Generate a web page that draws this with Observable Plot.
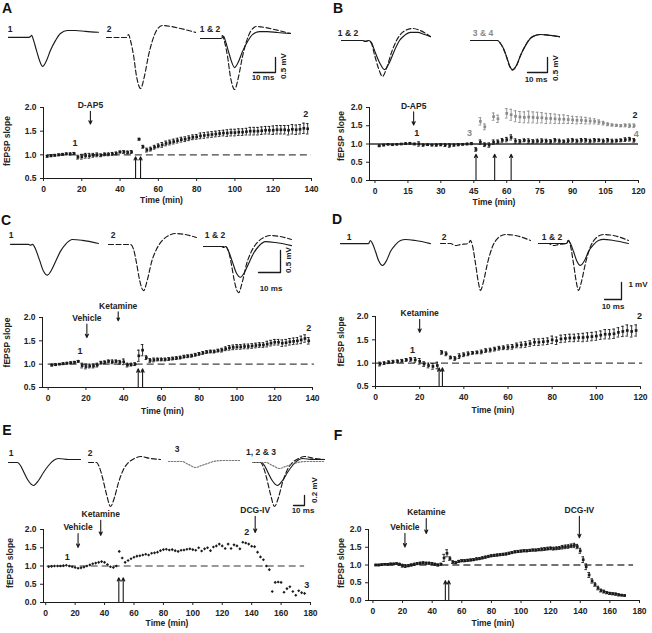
<!DOCTYPE html>
<html><head><meta charset="utf-8">
<script src="https://cdn.jsdelivr.net/npm/d3@7"></script>
<script src="https://cdn.jsdelivr.net/npm/@observablehq/plot@0.6"></script>
<style>
body{margin:0;background:#fff;}
#root{position:relative;width:652px;height:633px;overflow:hidden;font-family:"Liberation Sans",Arial,sans-serif;background:#fff;}
#root svg{position:absolute;background:transparent;overflow:visible;}
.lbl{position:absolute;font-weight:bold;white-space:nowrap;line-height:1;color:#222;}
</style></head><body><div id="root"></div><script>
// ---------------- DATA ----------------
// Waveform traces: [ms, mV]
const A_tr1 = [[0,0],[9.1,0],[10,0.03],[10.5,0.07],[11.4,-0.1],[12.7,-0.43],[14.1,-0.77],[15.5,-0.97],[17.3,-0.77],[19.1,-0.43],[21.4,-0.1],[23.6,0.13],[26.8,0.23],[30.5,0.23],[35,0.2],[40.9,0.17]];
const A_tr2 = [[0,0],[9.1,0],[10,0.1],[10.9,-0.1],[12.3,-0.6],[13.6,-1.27],[15.5,-1.7],[17.3,-1.27],[19.1,-0.6],[20.9,-0.1],[22.7,0.23],[25.5,0.4],[29.1,0.37],[33.6,0.3],[40.5,0.17]];
const B_tr1 = [[0,0],[10.5,0],[12,-0.03],[13.5,0],[15,-0.07],[16.5,-0.33],[19,-0.73],[21.5,-0.97],[24,-0.73],[26.5,-0.33],[29,0],[31.5,0.17],[34.5,0.27],[38,0.27],[41.5,0.2],[44.5,0.13]];
const B_tr2 = [[0,0],[10.5,0],[12,-0.03],[13.5,0],[15,-0.1],[16.5,-0.47],[18.5,-0.93],[20.5,-1.2],[22.5,-0.93],[25,-0.4],[27.5,0],[30.5,0.27],[35.5,0.4],[39.5,0.33],[44.5,0.13]];
const B_tr3 = [[0,0],[13.5,0],[15,-0.1],[16.5,-0.27],[18,-0.53],[19.5,-0.83],[21,-0.97],[23,-0.83],[25,-0.5],[27.5,-0.17],[30,0.07],[32.5,0.17],[35,0.2],[40,0.17],[44.5,0.13]];
const B_tr4 = [[0,0],[13.5,0],[15,-0.1],[16.5,-0.28],[18,-0.55],[19.5,-0.85],[21,-0.99],[23,-0.84],[25,-0.5],[27.5,-0.16],[30,0.08],[32.5,0.17],[35,0.2],[40,0.17],[44.5,0.12]];
const C_tr1 = [[0,0],[8.2,0],[9.1,-0.02],[10,0],[11.4,-0.11],[13.2,-0.36],[15,-0.61],[16.8,-0.7],[18.6,-0.59],[20.5,-0.39],[22.7,-0.16],[25,0],[28.2,0.11],[32.7,0.09],[40,0.02]];
const C_tr2 = [[0,0],[10,0],[11.4,-0.11],[12.7,-0.41],[14.1,-0.8],[15.9,-1.05],[17.7,-0.8],[19.5,-0.41],[21.8,-0.11],[24.1,0.07],[27.3,0.2],[30.5,0.25],[34.5,0.23],[40,0.16]];
const D_tr1 = [[0,0],[16.5,0],[17.6,0.18],[18.8,0],[20.6,-0.47],[22.4,-1.0],[24.7,-1.29],[27.1,-1.0],[29.4,-0.47],[32.4,-0.06],[35.3,0.18],[38.2,0.24],[44.1,0.18],[52.9,0]];
const D_tr2 = [[0,0],[5.9,0],[8.8,-0.12],[11.8,-0.06],[16.5,0],[17.6,0.18],[18.8,-0.12],[20.6,-1.18],[22.4,-2.35],[23.5,-2.76],[25.3,-2.24],[27.6,-1.18],[30.6,-0.18],[33.5,0.29],[38.2,0.53],[44.1,0.47],[52.9,0.18]];
const E_tr1 = [[0,0],[8.2,0],[10.9,-0.06],[13.6,-0.18],[17.3,-0.34],[22.7,-0.46],[27.3,-0.36],[31.8,-0.2],[36.4,-0.06],[40.9,0.04],[45.5,0.08],[54.5,0.06],[65.5,0.06]];
const E_tr2 = [[0,0],[7.3,0],[10,-0.1],[12.7,-0.3],[16.4,-0.64],[20,-0.88],[23.6,-0.7],[27.3,-0.4],[31.8,-0.14],[36.4,0],[41.8,0.08],[47.3,0.12],[56.4,0.08],[65.5,0.06]];
const E_tr3 = [[0,0],[12.7,0],[16.4,-0.04],[20,-0.08],[24.5,-0.12],[30,-0.08],[35.5,-0.04],[40.9,0],[50,0.02],[65.5,0.02]];

// Scale bars: [ms, mV]
const A_bar = [10, 0.5], B_bar = [10, 0.5], C_bar = [10, 0.5], D_bar = [10, 1], E_bar = [10, 0.2];

// Time courses: [min, fEPSP slope, SEM]
const A_data = [[2,0.97,0.02],[4,0.98,0.02],[6,0.99,0.02],[8,1.0,0.02],[10,1.01,0.02],[12,1.02,0.02],[14,1.02,0.02],[16,1.03,0.02],
[18,0.95,0.04],[20,0.96,0.05],[22,0.98,0.05],[24,0.98,0.05],[26,0.99,0.04],[28,1.0,0.04],[30,0.99,0.03],[32,1.01,0.03],[34,1.01,0.03],[36,1.02,0.03],[38,1.03,0.03],[40,1.06,0.02],[42,1.06,0.03],[44,1.05,0.03],[46,1.06,0.03],
[50,1.33,0.02],[52,1.17,0.03],[54,1.1,0.04],[56,1.12,0.04],[58,1.16,0.04],[60,1.19,0.04],[62,1.21,0.05],[64,1.24,0.05],[66,1.26,0.05],[68,1.28,0.05],[70,1.3,0.05],[72,1.32,0.05],[74,1.33,0.05],[76,1.35,0.05],[78,1.37,0.05],[80,1.38,0.05],[82,1.4,0.06],[84,1.41,0.06],[86,1.42,0.06],[88,1.43,0.06],[90,1.44,0.06],[92,1.45,0.06],[94,1.46,0.06],[96,1.46,0.07],[98,1.47,0.07],[100,1.47,0.07],[102,1.48,0.07],[104,1.48,0.07],[106,1.49,0.07],[108,1.5,0.08],[110,1.5,0.08],[112,1.5,0.08],[114,1.51,0.08],[116,1.52,0.08],[118,1.52,0.08],[120,1.52,0.09],[122,1.53,0.09],[124,1.53,0.09],[126,1.53,0.09],[128,1.52,0.1],[130,1.54,0.1],[132,1.53,0.1],[134,1.54,0.1],[136,1.56,0.11],[138,1.55,0.11]];
const B_black = [[2,0.95,0.02],[4,0.97,0.02],[6,0.99,0.01],[8,0.98,0.01],[10,0.99,0.01],[12,1.0,0.01],[14,1.01,0.02],[16,1.02,0.02],[18,1.0,0.02],[20,1.0,0.06],[22,0.97,0.03],[24,0.98,0.02],[26,0.97,0.02],[28,0.97,0.03],[30,0.98,0.03],[32,0.97,0.04],[34,0.96,0.05],[36,0.97,0.03],[38,0.98,0.03],[40,0.99,0.02],[42,1.0,0.02],[44,1.01,0.03],[46,0.85,0.05],[48,1.05,0.06],[50,0.98,0.05],[52,0.97,0.06],[54,1.05,0.06],[56,1.06,0.05],[58,1.1,0.05],[60,1.12,0.06],[62,1.18,0.07],[64,1.08,0.06],[66,1.07,0.05],[68,1.1,0.04],[70,1.08,0.06],[72,1.07,0.05],[74,1.08,0.05],[76,1.09,0.05],[78,1.08,0.05],[80,1.07,0.05],[82,1.1,0.05],[84,1.08,0.05],[86,1.07,0.04],[88,1.09,0.05],[90,1.1,0.05],[92,1.08,0.05],[94,1.1,0.05],[96,1.1,0.05],[98,1.08,0.05],[100,1.1,0.05],[102,1.1,0.04],[104,1.08,0.05],[106,1.1,0.05],[108,1.08,0.05],[110,1.09,0.04],[112,1.1,0.04],[114,1.12,0.05],[116,1.13,0.05],[118,1.1,0.05]];
const B_gray = [[48,1.62,0.1],[50,1.47,0.08],[54,1.75,0.1],[56,1.69,0.1],[60,1.84,0.13],[62,1.8,0.15],[64,1.76,0.15],[66,1.74,0.15],[68,1.73,0.15],[70,1.74,0.16],[72,1.73,0.15],[74,1.72,0.15],[76,1.72,0.14],[78,1.7,0.14],[80,1.7,0.13],[82,1.69,0.13],[84,1.68,0.12],[86,1.68,0.12],[88,1.67,0.11],[90,1.66,0.1],[92,1.65,0.1],[94,1.65,0.09],[96,1.64,0.09],[98,1.63,0.08],[100,1.62,0.07],[102,1.6,0.06],[104,1.57,0.05],[106,1.54,0.04],[108,1.52,0.03],[110,1.51,0.03],[112,1.5,0.03],[114,1.51,0.04],[116,1.5,0.05],[118,1.5,0.05]];
const C_data = [[2,0.98,0.02],[4,0.99,0.02],[6,1.0,0.01],[8,1.01,0.02],[10,1.02,0.02],[12,1.03,0.02],[14,1.04,0.02],[16,1.06,0.02],[18,0.97,0.05],[20,0.95,0.05],[22,0.96,0.04],[24,0.96,0.04],[26,0.98,0.04],[28,1.03,0.03],[30,1.04,0.03],[32,1.06,0.03],[34,1.05,0.04],[36,1.06,0.03],[38,1.04,0.04],[40,1.05,0.06],[42,0.98,0.04],[44,0.99,0.03],[46,1.0,0.03],[48,1.18,0.12],[50,1.3,0.12],[52,1.14,0.04],[54,1.08,0.04],[56,1.09,0.04],[58,1.1,0.03],[60,1.1,0.03],[62,1.1,0.03],[64,1.11,0.03],[66,1.12,0.03],[68,1.13,0.03],[70,1.14,0.03],[72,1.16,0.03],[74,1.17,0.03],[76,1.18,0.03],[78,1.2,0.03],[80,1.22,0.03],[82,1.24,0.03],[84,1.26,0.03],[86,1.27,0.03],[88,1.27,0.03],[90,1.29,0.03],[92,1.3,0.04],[94,1.33,0.04],[96,1.35,0.05],[98,1.36,0.05],[100,1.37,0.05],[102,1.37,0.05],[104,1.38,0.05],[106,1.38,0.05],[108,1.39,0.05],[110,1.4,0.05],[112,1.41,0.05],[114,1.41,0.05],[116,1.43,0.06],[118,1.45,0.06],[120,1.47,0.06],[122,1.47,0.06],[124,1.45,0.07],[126,1.46,0.07],[128,1.48,0.07],[130,1.49,0.07],[132,1.5,0.07],[134,1.52,0.08],[136,1.55,0.08],[138,1.5,0.07]];
const D_data = [[2,0.98,0.04],[4,1.0,0.03],[6,1.02,0.03],[8,1.03,0.03],[10,1.04,0.03],[12,1.05,0.03],[14,1.07,0.03],[16,1.08,0.04],[18,1.07,0.05],[20,1.04,0.06],[22,0.98,0.05],[24,0.95,0.05],[26,0.93,0.06],[28,0.95,0.07],[30,1.23,0.04],[32,1.2,0.04],[34,1.12,0.03],[36,1.1,0.04],[38,1.15,0.05],[40,1.18,0.04],[42,1.2,0.04],[44,1.22,0.03],[46,1.23,0.03],[48,1.24,0.04],[50,1.27,0.04],[52,1.28,0.04],[54,1.3,0.04],[56,1.32,0.04],[58,1.33,0.04],[60,1.34,0.05],[62,1.35,0.05],[64,1.38,0.05],[66,1.39,0.06],[68,1.4,0.06],[70,1.42,0.06],[72,1.45,0.07],[74,1.45,0.07],[76,1.46,0.07],[78,1.47,0.07],[80,1.5,0.08],[82,1.48,0.08],[84,1.52,0.08],[86,1.53,0.08],[88,1.54,0.08],[90,1.54,0.08],[92,1.55,0.08],[94,1.55,0.09],[96,1.56,0.09],[98,1.57,0.09],[100,1.58,0.09],[102,1.6,0.09],[104,1.62,0.1],[106,1.62,0.1],[108,1.63,0.1],[110,1.66,0.1],[112,1.68,0.11],[114,1.7,0.12],[116,1.68,0.12],[118,1.7,0.12]];
const E_data = [[2,0.98],[4,0.99],[6,1.0],[8,1.0],[10,1.0],[12,1.01],[14,1.02],[16,1.0],[18,0.98],[20,0.96],[22,0.94],[24,0.95],[26,0.97],[28,1.0],[30,1.03],[32,1.06],[34,1.08],[36,1.1],[38,1.12],[40,1.1],[42,1.04],[44,0.98],[46,0.96],[48,1.0],[50,1.4],[52,1.22],[54,1.1],[56,1.15],[58,1.2],[60,1.24],[62,1.27],[64,1.28],[66,1.3],[68,1.32],[70,1.3],[72,1.35],[74,1.36],[76,1.38],[78,1.42],[80,1.45],[82,1.46],[84,1.44],[86,1.45],[88,1.42],[90,1.4],[92,1.43],[94,1.44],[96,1.46],[98,1.47],[100,1.45],[102,1.43],[104,1.5],[106,1.41],[108,1.47],[110,1.5],[112,1.42],[114,1.52],[116,1.55],[118,1.6],[120,1.55],[122,1.48],[124,1.6],[126,1.48],[128,1.58],[130,1.55],[132,1.47],[134,1.65],[136,1.63],[138,1.6],[140,1.54],[142,1.53],[144,1.38],[146,1.25],[148,1.17],[150,1.0],[152,0.9],[154,0.3],[156,0.55],[158,0.56],[160,0.55],[162,0.28],[164,0.38],[166,0.43],[168,0.3],[170,0.2],[172,0.32],[174,0.27],[176,0.25]];
const F_data = [[2,1.0,0.02],[4,1.0,0.02],[6,1.01,0.02],[8,1.02,0.02],[10,1.02,0.02],[12,1.03,0.02],[14,1.03,0.02],[16,1.04,0.02],[18,1.02,0.03],[20,0.98,0.04],[22,0.97,0.04],[24,0.98,0.03],[26,1.0,0.03],[28,1.02,0.03],[30,1.04,0.03],[32,1.05,0.03],[34,1.06,0.03],[36,1.05,0.03],[38,1.05,0.03],[40,1.04,0.03],[42,1.02,0.03],[44,1.0,0.03],[46,1.02,0.03],[48,1.2,0.1],[50,1.33,0.1],[52,1.18,0.05],[54,1.08,0.04],[56,1.07,0.03],[58,1.1,0.03],[60,1.12,0.03],[62,1.12,0.03],[64,1.13,0.03],[66,1.14,0.03],[68,1.15,0.03],[70,1.17,0.03],[72,1.18,0.03],[74,1.2,0.03],[76,1.22,0.03],[78,1.24,0.03],[80,1.26,0.03],[82,1.27,0.03],[84,1.28,0.03],[86,1.29,0.03],[88,1.3,0.03],[90,1.31,0.03],[92,1.33,0.03],[94,1.35,0.03],[96,1.37,0.03],[98,1.38,0.03],[100,1.39,0.03],[102,1.4,0.03],[104,1.4,0.03],[106,1.41,0.03],[108,1.42,0.03],[110,1.42,0.03],[112,1.43,0.03],[114,1.44,0.04],[116,1.45,0.04],[118,1.46,0.04],[120,1.47,0.04],[122,1.46,0.04],[124,1.47,0.04],[126,1.48,0.04],[128,1.5,0.05],[130,1.51,0.05],[132,1.52,0.05],[134,1.54,0.05],[136,1.55,0.06],[138,1.52,0.06],[140,1.4,0.07],[142,1.15,0.08],[144,0.95,0.08],[146,0.72,0.07],[148,0.55,0.06],[150,0.45,0.05],[152,0.35,0.05],[154,0.28,0.04],[156,0.25,0.04],[158,0.22,0.03],[160,0.2,0.03],[162,0.19,0.03],[164,0.18,0.03],[166,0.16,0.03],[168,0.15,0.02],[170,0.14,0.02]];

// Drug applications [name, min], tetanus times (min), sample points [name, min]
const A_drugs = [["D-AP5",24.5]], A_hfs = [48.1,50.7], A_pts = [["1",16.5],["2",137]];
const B_drugs = [["D-AP5",17.6]], B_hfs = [46,54.5,62], B_pts = [["1",19],["2",118.4]], B_ptsGray = [["3",43],["4",119]];
const C_drugs = [["Vehicle",20.5],["Ketamine",37.1]], C_hfs = [47.7,50], C_pts = [["1",16.8],["2",138]];
const D_drugs = [["Ketamine",20]], D_hfs = [28.8,30.3], D_pts = [["1",16.7],["2",119.6]];
const E_drugs = [["Vehicle",22],["Ketamine",37.4],["DCG-IV",142.4]], E_hfs = [49.7,52.7], E_pts = [["1",14.7],["2",136.6],["3",177.5]];
const F_drugs = [["Vehicle",21.6],["Ketamine",36],["DCG-IV",139.4]], F_hfs = [48.9,51.2];

const ticks140 = [0,20,40,60,80,100,120,140];
const ticks120_15 = [0,15,30,45,60,75,90,105,120];
const ticks120_20 = [0,20,40,60,80,100,120];
const ticks180 = [0,20,40,60,80,100,120,140,160,180];
const yt05 = [0.5,1.0,1.5,2.0], yt0 = [0,0.5,1.0,1.5,2.0];

// ---------------- DRAWING ----------------
const root = document.getElementById("root");
const FONT = '"Liberation Sans", Arial, sans-serif';
const INK = "#1a1a1a";
const DASH = "5,2.5";
function place(el, left, top) { el.style.left = left + "px"; el.style.top = top + "px"; root.appendChild(el); }
function label(text, x, y, {size = 8.5, color = "#222", rotate = 0} = {}) {
  const d = document.createElement("div");
  d.className = "lbl"; d.textContent = text;
  d.style.left = x + "px"; d.style.top = y + "px"; d.style.fontSize = size + "px"; d.style.color = color;
  d.style.transform = `translate(-50%,-50%) rotate(${rotate}deg)`;
  root.appendChild(d);
}
function traces(series, x0, y0, msPx, mvPx) {
  const all = series.flatMap(s => s.data);
  const tmax = d3.max(all, d => d[0]);
  const vmin = Math.min(0, d3.min(all, d => d[1])), vmax = Math.max(0, d3.max(all, d => d[1]));
  const pad = 3;
  const svg = Plot.plot({
    width: tmax * msPx + 2 * pad, height: (vmax - vmin) * mvPx + 2 * pad, margin: pad,
    x: {domain: [0, tmax], axis: null}, y: {domain: [vmin, vmax], axis: null},
    style: {background: "transparent", overflow: "visible"},
    marks: series.map(s => Plot.line(s.data, {x: d => d[0], y: d => d[1], stroke: s.stroke || INK,
      strokeWidth: s.w || 1.15, strokeDasharray: s.dash, curve: "monotone-x"}))
  });
  place(svg, x0 - pad, y0 - pad - vmax * mvPx);
}
function scaleBar(bar, x, y, msPx, mvPx) {
  const [ms, mv] = bar, pad = 2;
  const pts = [[0, 0], [ms, 0], [ms, mv]];
  const svg = Plot.plot({
    width: ms * msPx + 2 * pad, height: mv * mvPx + 2 * pad, margin: pad,
    x: {domain: [0, ms], axis: null}, y: {domain: [0, mv], axis: null},
    style: {background: "transparent", overflow: "visible"},
    marks: [Plot.line(pts, {x: d => d[0], y: d => d[1], stroke: INK, strokeWidth: 1.3})]
  });
  place(svg, x - ms * msPx - pad, y - mv * mvPx - pad);
}
function course(c) {
  const [fl, ft, fr, fb] = c.frame;
  const bx = fl - 45, by = ft - 40, bw = fr - fl + 60, bh = fb - ft + 70;
  const ppm = (fr - fl) / (c.xdom[1] - c.xdom[0]);
  const cap = 1.3 / ppm;
  const marks = [
    Plot.ruleY([{y: 1, a: c.base[0], b: c.base[1]}], {y: "y", x1: "a", x2: "b", stroke: c.baseColor, strokeWidth: 1.3, strokeDasharray: c.baseDash}),
    Plot.ruleX([c.xdom[0]], {stroke: INK, strokeWidth: 1}),
    Plot.ruleY([c.ydom[0]], {stroke: INK, strokeWidth: 1}),
    Plot.axisX({ticks: c.xticks, tickSize: 3, tickPadding: 4, label: null, tickFormat: d => String(d)}),
    Plot.axisY({ticks: c.yticks, tickSize: 3, tickPadding: 4, label: null, tickFormat: d3.format(".1f")})
  ];
  for (const s of c.series) {
    if (s.data[0].length > 2) {
      marks.push(Plot.ruleX(s.data, {x: d => d[0], y1: d => d[1] - d[2], y2: d => d[1] + d[2], stroke: s.color, strokeWidth: 0.9}));
      marks.push(Plot.ruleY(s.data, {y: d => d[1] + d[2], x1: d => d[0] - cap, x2: d => d[0] + cap, stroke: s.color, strokeWidth: 0.9}));
      marks.push(Plot.ruleY(s.data, {y: d => d[1] - d[2], x1: d => d[0] - cap, x2: d => d[0] + cap, stroke: s.color, strokeWidth: 0.9}));
    }
    marks.push(Plot.dot(s.data, {x: d => d[0], y: d => d[1], r: s.r || 1.5, symbol: s.symbol || "square", fill: s.color, stroke: null}));
  }
  marks.push(Plot.arrow(c.drugs, {x1: d => d[1], x2: d => d[1], y1: (d, i) => c.drugY[i][0], y2: (d, i) => c.drugY[i][1],
    stroke: INK, strokeWidth: 1.1, headLength: 5, headAngle: 50}));
  marks.push(Plot.text(c.drugs, {x: d => d[1], y: (d, i) => c.drugY[i][0], text: d => d[0], dy: -6, lineAnchor: "middle", fill: "#222"}));
  marks.push(Plot.arrow(c.hfs, {x1: d => d, x2: d => d, y1: () => c.ydom[0], y2: () => c.hfsTip,
    stroke: INK, strokeWidth: 1.1, headLength: 5, headAngle: 50}));
  if (c.pts) marks.push(Plot.text(c.pts, {x: d => d[1], y: (d, i) => c.ptsY[i], text: d => d[0], lineAnchor: "middle", fill: "#222", fontSize: 9}));
  if (c.ptsGray) marks.push(Plot.text(c.ptsGray, {x: d => d[1], y: (d, i) => c.ptsGrayY[i], text: d => d[0], lineAnchor: "middle", fill: "#888", fontSize: 9}));
  marks.push(Plot.text(["Time (min)"], {frameAnchor: "bottom", dx: c.xt[0], dy: c.xt[1], lineAnchor: "middle", fill: "#222"}));
  marks.push(Plot.text(["fEPSP slope"], {frameAnchor: "left", dx: c.yt[0], dy: c.yt[1], rotate: -90, textAnchor: "middle", lineAnchor: "middle", fill: "#222"}));
  const svg = Plot.plot({
    width: bw, height: bh,
    marginLeft: fl - bx, marginRight: bx + bw - fr, marginTop: ft - by, marginBottom: by + bh - fb,
    x: {domain: c.xdom}, y: {domain: c.ydom},
    style: {background: "transparent", overflow: "visible", fontFamily: FONT, fontSize: "8.5px", fontWeight: "bold", color: "#222"},
    marks
  });
  place(svg, bx, by);
}

// Panel letters
[["A",7,8],["B",338,8],["C",6,220],["D",337,219],["E",7,430],["F",338,435]].forEach(([t,x,y]) => label(t, x, y, {size: 14, color: "#111"}));

// ---- Panel A ----
traces([{data: A_tr1}], 8, 37, 2.2, 30);
traces([{data: A_tr2, dash: DASH}], 106, 37, 2.2, 30);
traces([{data: A_tr1}, {data: A_tr2, dash: DASH}], 200, 38, 2.2, 30);
scaleBar(A_bar, 275, 72, 2.2, 30);
label("1", 10, 29); label("2", 109, 29); label("1 & 2", 210, 29);
label("10 ms", 263, 78, {size: 8}); label("0.5 mV", 284, 66, {size: 8, rotate: -90});
course({frame: [43,107,311,178], xdom: [0,140], ydom: [0.5,2], xticks: ticks140, yticks: yt05,
  base: [2,140], baseColor: "#444", baseDash: "7,4",
  series: [{data: A_data, color: INK}],
  drugs: A_drugs, drugY: [[1.92,1.65]], hfs: A_hfs, hfsTip: 0.96,
  pts: A_pts, ptsY: [1.24,1.85], xt: [-16,22], yt: [-36,-2]});

// ---- Panel B ----
traces([{data: B_tr1}, {data: B_tr2, dash: DASH}], 341, 40, 2.0, 30);
traces([{data: B_tr3}, {data: B_tr4, dash: DASH}], 470, 40, 2.0, 30);
scaleBar(B_bar, 547, 72, 2.0, 30);
label("1 & 2", 348, 33); label("3 & 4", 483, 33, {color: "#888"});
label("10 ms", 536, 80, {size: 8}); label("0.5 mV", 556, 68, {size: 8, rotate: -90});
course({frame: [369,107,638,180], xdom: [-2.5,120], ydom: [0,2], xticks: ticks120_15, yticks: yt0,
  base: [-2.5,120], baseColor: "#333", baseDash: null,
  series: [{data: B_black, color: INK}, {data: B_gray, color: "#8a8a8a"}],
  drugs: B_drugs, drugY: [[1.88,1.52]], hfs: B_hfs, hfsTip: 0.72,
  pts: B_pts, ptsY: [1.29,1.8], ptsGray: B_ptsGray, ptsGrayY: [1.29,1.27], xt: [-10,22], yt: [-28,-8]});

// ---- Panel C ----
traces([{data: C_tr1}], 10, 244, 2.2, 44);
traces([{data: C_tr2, dash: DASH}], 108, 244, 2.2, 44);
traces([{data: C_tr1}, {data: C_tr2, dash: DASH}], 203, 246, 2.2, 44);
scaleBar(C_bar, 280, 272, 2.2, 44);
label("1", 11, 235); label("2", 113, 235); label("1 & 2", 215, 235);
label("10 ms", 271, 289, {size: 8}); label("0.5 mV", 289, 260, {size: 8, rotate: -90});
course({frame: [42,317,312,387], xdom: [-3,140], ydom: [0.5,2], xticks: ticks140, yticks: yt05,
  base: [0,141], baseColor: "#444", baseDash: "7,4",
  series: [{data: C_data, color: INK}],
  drugs: C_drugs, drugY: [[1.86,1.57],[2.12,1.93]], hfs: C_hfs, hfsTip: 0.9,
  pts: C_pts, ptsY: [1.28,1.78], xt: [-15,24], yt: [-35,-10]});

// ---- Panel D ----
traces([{data: D_tr1}], 340, 243, 1.7, 17);
traces([{data: D_tr2, dash: DASH}], 440, 243, 1.7, 17);
traces([{data: D_tr1}, {data: D_tr2, dash: DASH}], 538, 243, 1.7, 17);
scaleBar(D_bar, 621, 299, 1.7, 17);
label("1", 349, 237); label("2", 444, 237); label("1 & 2", 552, 237);
label("10 ms", 613, 307, {size: 8}); label("1 mV", 638, 285, {size: 8});
course({frame: [375,316,640,386], xdom: [0,120], ydom: [0.5,2], xticks: ticks120_20, yticks: yt05,
  base: [0,121], baseColor: "#444", baseDash: "7,4",
  series: [{data: D_data, color: INK}],
  drugs: D_drugs, drugY: [[1.94,1.66]], hfs: D_hfs, hfsTip: 0.9,
  pts: D_pts, ptsY: [1.29,2.0], xt: [-15,24], yt: [-34,-10]});

// ---- Panel E ----
traces([{data: E_tr1}], 8, 462, 1.1, 50);
traces([{data: E_tr2, dash: DASH}], 88, 462, 1.1, 50);
traces([{data: E_tr3, dash: "1.5,1.5", stroke: "#777"}], 168, 461, 1.1, 50);
traces([{data: E_tr1}, {data: E_tr2, dash: DASH}, {data: E_tr3, dash: "1.5,1.5", stroke: "#777"}], 252, 462, 1.1, 50);
scaleBar(E_bar, 304, 505, 1.1, 50);
label("1", 11, 453); label("2", 90, 453); label("3", 177, 449); label("1, 2 & 3", 261, 452);
label("10 ms", 303, 511, {size: 8}); label("0.2 mV", 315, 490, {size: 8, rotate: -90});
course({frame: [43,529,310,602], xdom: [-1.5,180], ydom: [0,2], xticks: ticks180, yticks: yt0,
  base: [1,176], baseColor: "#777", baseDash: "7,4",
  series: [{data: E_data, color: INK, r: 1.4, symbol: "diamond2"}],
  drugs: E_drugs, drugY: [[1.89,1.51],[2.25,1.84],[2.36,1.92]], hfs: E_hfs, hfsTip: 0.68,
  pts: E_pts, ptsY: [1.24,1.93,0.47], xt: [-10,21], yt: [-33,-3]});

// ---- Panel F ----
course({frame: [368,529,639,600], xdom: [-3,180], ydom: [0,2], xticks: ticks180, yticks: yt0,
  base: [2,176], baseColor: "#444", baseDash: "7,4",
  series: [{data: F_data, color: INK}],
  drugs: F_drugs, drugY: [[1.89,1.51],[2.31,1.89],[2.37,1.77]], hfs: F_hfs, hfsTip: 0.56,
  xt: [-11,23], yt: [-27,-2]});
</script></body></html>
